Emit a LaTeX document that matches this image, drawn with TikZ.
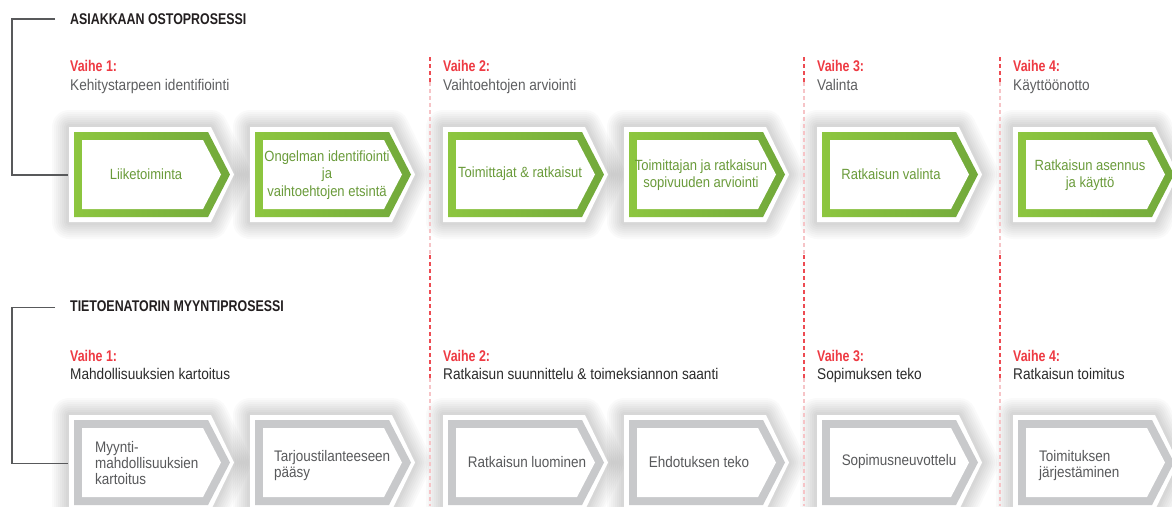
\documentclass[tikz,border=0pt]{standalone}
\usepackage{fontspec}
\setmainfont{Liberation Sans}[FakeStretch=0.88]
\newfontfamily\condbf{Liberation Sans}[FakeStretch=0.8]
\usetikzlibrary{calc}
\definecolor{vred}{HTML}{EE3A43}
\definecolor{dkred}{HTML}{ED4B52}
\definecolor{pkred}{HTML}{F6C4C7}
\definecolor{titlec}{HTML}{231F20}
\definecolor{subgray}{HTML}{5E5F61}
\definecolor{subdark}{HTML}{2B2B2B}
\definecolor{gleft}{HTML}{8DC63F}
\definecolor{gright}{HTML}{72A93B}
\definecolor{gtext}{HTML}{6A9B3A}
\definecolor{gyband}{HTML}{C8C9CB}
\definecolor{gytext}{HTML}{58595B}
\definecolor{brc}{HTML}{58595B}
\tikzset{
  titletxt/.style={font=\condbf\bfseries\fontsize{15.5}{18}\selectfont, text=titlec, inner sep=0pt, anchor=base west},
  vaihetxt/.style={font=\condbf\bfseries\fontsize{15.5}{18}\selectfont, text=vred, inner sep=0pt, anchor=base west},
  subtxt/.style={font=\fontsize{15.5}{18}\selectfont, text=subgray, inner sep=0pt, anchor=base west},
  subtxtdark/.style={subtxt, text=subdark},
  gtxt/.style={font=\fontsize{14.8}{17.5}\selectfont, text=gtext, inner sep=0pt, align=center},
  ytxt/.style={font=\fontsize{15.3}{16}\selectfont, text=gytext, inner sep=0pt, align=left},
  bracket/.style={draw=brc, line width=1.3pt},
  darkdash/.style={draw=dkred, line width=1.2pt, dash pattern=on 4pt off 3pt},
  pinkdash/.style={draw=pkred, line width=1.2pt, dash pattern=on 4pt off 3pt},
}
\newcommand\chevshadow[2]{%
  \begin{scope}[shift={(#1,#2)}]
    \foreach \w in {34,30,26,22,18,14,10,6}
      \draw[line width=\w pt, black, opacity=0.018, line join=round]
        (-5,-5) -- (137,-5) -- (160,42.5) -- (137,90) -- (-5,90) -- cycle;
  \end{scope}}
\newcommand\chevgreen[2]{%
  \begin{scope}[shift={(#1,#2)}]
    \fill[white] (-5,-5) -- (137,-5) -- (160,42.5) -- (137,90) -- (-5,90) -- cycle;
    \shade[left color=gleft, right color=gright] (0,0) -- (134,0) -- (156,42.5) -- (134,85) -- (0,85) -- cycle;
    \fill[white] (8,8) -- (129,8) -- (147,42.5) -- (129,77) -- (8,77) -- cycle;
  \end{scope}}
\newcommand\chevgray[2]{%
  \begin{scope}[shift={(#1,#2)}]
    \fill[white] (-5,-5) -- (137,-5) -- (160,42.5) -- (137,90) -- (-5,90) -- cycle;
    \fill[gyband] (0,0) -- (134,0) -- (156,42.5) -- (134,85) -- (0,85) -- cycle;
    \fill[white] (8,8) -- (129,8) -- (147,42.5) -- (129,77) -- (8,77) -- cycle;
  \end{scope}}
\begin{document}
\begin{tikzpicture}[x=1pt,y=-1pt]
\useasboundingbox (0,0) rectangle (1172,506);
\clip (0,0) rectangle (1172,506);
\fill[white] (0,0) rectangle (1172,506);

% shadows
\foreach \x in {74,255,448,629,822,1018} {\chevshadow{\x}{132}\chevshadow{\x}{420}}

% dashed phase separators
\foreach \x in {430,804,1000} {
  \draw[darkdash] (\x,57) -- (\x,82);
  \draw[pinkdash] (\x,82) -- (\x,255);
  \draw[darkdash] (\x,255) -- (\x,378);
  \draw[pinkdash] (\x,378) -- (\x,506);
}

% chevrons
\foreach \x in {74,255,448,629,822,1018} {\chevgreen{\x}{132}\chevgray{\x}{420}}

% titles
\node[titletxt] (t1) at (70,24) {ASIAKKAAN OSTOPROSESSI};
\node[titletxt] (t2) at (70,311.5) {TIETOENATORIN MYYNTIPROSESSI};

% brackets
\coordinate (br1s) at (55,19);
\coordinate (br1e) at (68,175);
\draw[bracket] (br1s) -- (12,19) |- (br1e);
\coordinate (br2s) at (55,307.5);
\coordinate (br2e) at (68,463.5);
\draw[bracket] (br2s) -- (12,307.5) |- (br2e);

% phase labels top
\node[vaihetxt] (v11) at (70,71) {Vaihe 1:};
\node[subtxt] (s11) at (70,90) {Kehitystarpeen identifiointi};
\node[vaihetxt] (v12) at (443,71) {Vaihe 2:};
\node[subtxt] (s12) at (443,90) {Vaihtoehtojen arviointi};
\node[vaihetxt] (v13) at (817,71) {Vaihe 3:};
\node[subtxt] (s13) at (817,90) {Valinta};
\node[vaihetxt] (v14) at (1013,71) {Vaihe 4:};
\node[subtxt] (s14) at (1013,90) {Käyttöönotto};

% phase labels bottom
\node[vaihetxt] (v21) at (70,361) {Vaihe 1:};
\node[subtxtdark] (s21) at (70,379.5) {Mahdollisuuksien kartoitus};
\node[vaihetxt] (v22) at (443,361) {Vaihe 2:};
\node[subtxtdark] (s22) at (443,379.5) {Ratkaisun suunnittelu \& toimeksiannon saanti};
\node[vaihetxt] (v23) at (817,361) {Vaihe 3:};
\node[subtxtdark] (s23) at (817,379.5) {Sopimuksen teko};
\node[vaihetxt] (v24) at (1013,361) {Vaihe 4:};
\node[subtxtdark] (s24) at (1013,379.5) {Ratkaisun toimitus};

% green chevron texts
\node[gtxt] (g1) at (146,174) {Liiketoiminta};
\node[gtxt] (g2) at (327,175) {Ongelman identifiointi\\ja\\vaihtoehtojen etsintä};
\node[gtxt] (g3) at (520,174) {Toimittajat \& ratkaisut};
\node[gtxt] (g4) at (701,175) {Toimittajan ja ratkaisun\\sopivuuden arviointi};
\node[gtxt] (g5) at (891,174) {Ratkaisun valinta};
\node[gtxt] (g6) at (1090,175) {Ratkaisun asennus\\ja käyttö};

% gray chevron texts
\node[ytxt, anchor=west] (y1) at (95,463) {Myynti-\\mahdollisuuksien\\kartoitus};
\node[ytxt, anchor=west] (y2) at (274,466) {Tarjoustilanteeseen\\pääsy};
\node[ytxt] (y3) at (527,462) {Ratkaisun luominen};
\node[ytxt] (y4) at (699,462) {Ehdotuksen teko};
\node[ytxt] (y5) at (899,462) {Sopimusneuvottelu};
\node[ytxt, anchor=west] (y6) at (1039,466) {Toimituksen\\järjestäminen};
\end{tikzpicture}
\end{document}
